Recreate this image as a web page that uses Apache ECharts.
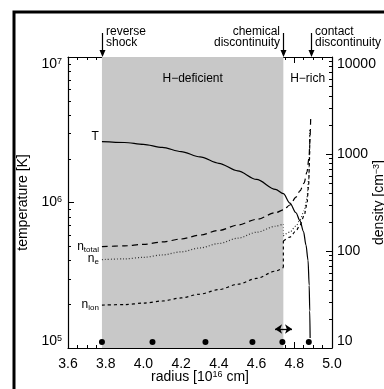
<!DOCTYPE html>
<html>
<head>
<meta charset="utf-8">
<script src="https://cdn.jsdelivr.net/npm/echarts@6/dist/echarts.min.js"></script>
<style>
  html, body { margin: 0; padding: 0; background: #fff; }
  #chart { width: 384px; height: 389px; }
</style>
</head>
<body>
<div id="chart"></div>
<script>
// temperature profile (left axis)
const radiusT = [3.78, 3.90, 4.00, 4.10, 4.20, 4.30, 4.40, 4.50, 4.60, 4.70, 4.742,
  4.777, 4.809, 4.830, 4.849, 4.862, 4.873, 4.879, 4.882, 4.884];
const temperature = [2.62e6, 2.585e6, 2.51e6, 2.39e6, 2.24e6, 2.06e6, 1.86e6, 1.65e6, 1.44e6, 1.23e6, 1.15e6,
  9.9e5, 8.5e5, 7.5e5, 6.3e5, 5.1e5, 4.0e5, 2.7e5, 1.8e5, 1.17e5];

// total density, continuous across the chemical discontinuity (right axis)
const radiusTotal = [3.78, 3.90, 4.00, 4.10, 4.20, 4.30, 4.40, 4.50, 4.60, 4.70, 4.742,
  4.777, 4.809, 4.830, 4.852, 4.867, 4.878, 4.883, 4.887];
const densityTotal = [110.7, 113, 117, 124, 133, 146, 163, 185, 212, 248, 265,
  298, 360, 416, 502, 652, 910, 1390, 2350];

// H-deficient side
const radiusDef = [3.78, 3.90, 4.00, 4.10, 4.20, 4.30, 4.40, 4.50, 4.60, 4.70, 4.742];
const neDef = [81.5, 83, 86, 91, 98, 107.5, 119.5, 135.5, 156, 180, 190];
const nionDef = [27.7, 28, 29, 30.5, 32.8, 36, 40, 45.4, 52.2, 62, 67.5];

// H-rich side
const radiusRich = [4.742, 4.777, 4.809, 4.830, 4.852, 4.867, 4.876, 4.881, 4.882];
const neRich = [143, 157, 181, 209, 259, 343, 540, 977, 1850];
const nionRich = [127, 139, 161, 185, 230, 305, 479, 867, 1570];

// markers along the bottom and the double arrow
const dotRadius = [3.78, 4.048, 4.329, 4.578, 4.737, 4.877];
const dotTemp = 1.1e5;
const arrowRadius = [4.698, 4.788];
const arrowTemp = 1.35e5;

const shockRadius = 3.78;
const chemRadius = 4.742;
const contactRadius = 4.887;

const tempTicks = [1e5, 1e6, 1e7];
const densityTicks = [10, 100, 1000, 10000];
const radiusRange = [3.6, 5.0];

const FONT = '"Liberation Sans", Arial, Helvetica, sans-serif';

const pairs = (xs, ys) => xs.map((x, i) => [x, ys[i]]);

const labelRich = {
  b: { fontSize: 12, lineHeight: 14, fontFamily: FONT, color: '#000' },
  s: { fontSize: 8, lineHeight: 6, verticalAlign: 'bottom', fontFamily: FONT, color: '#000' }
};
const supRich = {
  sup: { fontSize: 9, lineHeight: 6, verticalAlign: 'top', fontFamily: FONT, color: '#000' }
};

// curve name written just left of its first point
function startMark(point, text, offset) {
  return {
    silent: true,
    symbol: 'circle', symbolSize: 0,
    itemStyle: { color: 'rgba(0,0,0,0)' },
    label: {
      show: true, position: 'left', distance: 3, offset: offset,
      formatter: text, rich: labelRich, fontFamily: FONT, fontSize: 12, color: '#000'
    },
    data: [{ coord: point }]
  };
}

function lineSeries(data, yAxisIndex, type, color, smooth, label) {
  const s = {
    type: 'line',
    xAxisIndex: 0,
    yAxisIndex: yAxisIndex,
    data: data,
    showSymbol: false,
    symbol: 'none',
    smooth: smooth,
    smoothMonotone: 'x',
    silent: true,
    z: 3,
    lineStyle: { color: color, width: 1.2, type: type }
  };
  if (label) s.markPoint = startMark(data[0], label[0], label[1]);
  return s;
}

const axisBase = {
  axisLine: { show: true, lineStyle: { color: '#000', width: 1.2 } },
  axisTick: { show: true, inside: true, length: 6, lineStyle: { color: '#000', width: 1 } },
  splitLine: { show: false },
  nameMoveOverlap: false
};

const chart = echarts.init(document.getElementById('chart'));

const option = {
  animation: false,
  backgroundColor: '#fff',
  grid: { left: 68, right: 52, top: 57, bottom: 41, outerBoundsMode: 'none', containLabel: false },
  xAxis: [
    Object.assign({}, axisBase, {
      type: 'value', position: 'bottom',
      min: radiusRange[0], max: radiusRange[1], interval: 0.2,
      minorTick: { show: true, splitNumber: 4, length: 3, lineStyle: { color: '#000', width: 1 } },
      axisLabel: { formatter: v => v.toFixed(1), fontSize: 14, margin: 9, color: '#000', fontFamily: FONT },
      name: 'radius [10{sup|16} cm]',
      nameLocation: 'middle', nameGap: 22,
      nameTextStyle: { fontSize: 14, lineHeight: 14, color: '#000', fontFamily: FONT, rich: supRich }
    }),
    Object.assign({}, axisBase, {
      type: 'value', position: 'top',
      min: radiusRange[0], max: radiusRange[1], interval: 0.2,
      minorTick: { show: true, splitNumber: 4, length: 3, lineStyle: { color: '#000', width: 1 } },
      axisLabel: { show: false }
    })
  ],
  yAxis: [
    Object.assign({}, axisBase, {
      type: 'log', logBase: 10, position: 'left',
      min: tempTicks[0], max: tempTicks[tempTicks.length - 1],
      axisLabel: {
        formatter: v => '10{sup|' + Math.round(Math.log10(v)) + '}',
        fontSize: 14, lineHeight: 14, margin: 6, color: '#000', fontFamily: FONT, rich: supRich,
        verticalAlignMinLabel: 'bottom', verticalAlignMaxLabel: 'top'
      },
      name: 'temperature [K]',
      nameLocation: 'middle', nameRotate: 90, nameGap: 38,
      nameTextStyle: { fontSize: 14, color: '#000', fontFamily: FONT }
    }),
    Object.assign({}, axisBase, {
      type: 'log', logBase: 10, position: 'right',
      min: densityTicks[0], max: densityTicks[densityTicks.length - 1],
      axisLabel: {
        formatter: v => String(Math.round(v)),
        fontSize: 14, margin: 5, color: '#000', fontFamily: FONT,
        verticalAlignMinLabel: 'bottom', verticalAlignMaxLabel: 'top'
      },
      name: 'density [cm{sup|−3}]',
      nameLocation: 'middle', nameRotate: 90, nameGap: 40,
      nameTextStyle: { fontSize: 14, lineHeight: 14, color: '#000', fontFamily: FONT, rich: supRich }
    })
  ],
  series: [
    {
      // shaded H-deficient shell and region titles
      type: 'line', xAxisIndex: 0, yAxisIndex: 0,
      data: [[shockRadius, tempTicks[0]]],
      symbol: 'none', lineStyle: { opacity: 0 }, z: 1, silent: true,
      markArea: {
        silent: true,
        label: { show: true, position: 'insideTop', distance: 16, fontSize: 12, color: '#000', fontFamily: FONT },
        data: [
          [{ xAxis: shockRadius, name: 'H−deficient', itemStyle: { color: '#c8c8c8' } }, { xAxis: chemRadius }],
          [{ xAxis: chemRadius, name: 'H−rich', itemStyle: { color: 'rgba(0,0,0,0)' } }, { xAxis: radiusRange[1] }]
        ]
      }
    },
    lineSeries(pairs(radiusT, temperature), 0, 'solid', '#000', 0.3, ['T', [0, -5]]),
    lineSeries(pairs(radiusTotal, densityTotal), 1, [6, 4], '#000', 0.3, ['{b|n}{s|total}', [0, 0]]),
    lineSeries(pairs(radiusDef, neDef), 1, [1, 2], '#333', 0.3, ['{b|n}{s|e}', [0, -1]]),
    lineSeries([[chemRadius, neDef[neDef.length - 1]], [chemRadius, neRich[0]]], 1, [1, 2], '#888', false),
    lineSeries(pairs(radiusRich, neRich), 1, [1, 2], '#333', 0.3),
    lineSeries(pairs(radiusDef, nionDef), 1, [3, 3], '#000', 0.3, ['{b|n}{s|ion}', [0, 0]]),
    lineSeries([[chemRadius, nionDef[nionDef.length - 1]], [chemRadius, nionRich[0]]], 1, [3, 3], '#000', false),
    lineSeries(pairs(radiusRich, nionRich), 1, [3, 3], '#000', 0.3),
    {
      type: 'scatter', xAxisIndex: 0, yAxisIndex: 0,
      data: dotRadius.map(r => [r, dotTemp]),
      symbol: 'circle', symbolSize: 6, itemStyle: { color: '#000', opacity: 1 }, z: 4, silent: true,
      markLine: {
        silent: true,
        symbol: ['arrow', 'arrow'], symbolSize: 7,
        label: { show: false },
        lineStyle: { color: '#000', type: 'solid', width: 1.3 },
        data: [[{ coord: [arrowRadius[0], arrowTemp] }, { coord: [arrowRadius[1], arrowTemp] }]]
      }
    }
  ]
};

chart.setOption(option);

// log minor ticks, boundary arrows, frame
const graphics = [];
const xLeft = chart.convertToPixel({ xAxisIndex: 0 }, radiusRange[0]);
const xRight = chart.convertToPixel({ xAxisIndex: 0 }, radiusRange[1]);
const yTop = chart.convertToPixel({ yAxisIndex: 0 }, tempTicks[tempTicks.length - 1]);
const tickStyle = { stroke: '#000', lineWidth: 1 };

function minorTicks(axisIndex, decades, x0, dir) {
  decades.forEach(base => {
    for (let m = 2; m <= 9; m++) {
      const y = Math.round(chart.convertToPixel({ yAxisIndex: axisIndex }, m * base)) + 0.5;
      graphics.push({ type: 'line', silent: true, z: 10, shape: { x1: x0, y1: y, x2: x0 + dir * 3, y2: y }, style: tickStyle });
    }
  });
}
minorTicks(0, [1e5, 1e6], xLeft, 1);
minorTicks(1, [10, 100, 1000], xRight, -1);

function boundary(r, text, align) {
  const x = Math.round(chart.convertToPixel({ xAxisIndex: 0 }, r)) + 0.5;
  graphics.push({ type: 'line', silent: true, z: 10, shape: { x1: x, y1: 33, x2: x, y2: yTop - 5 }, style: { stroke: '#000', lineWidth: 1.2 } });
  graphics.push({ type: 'polygon', silent: true, z: 10, shape: { points: [[x - 3, yTop - 7], [x + 3, yTop - 7], [x, yTop]] }, style: { fill: '#000' } });
  graphics.push({
    type: 'text', silent: true, z: 10,
    x: align === 'left' ? x + 3.5 : x - 3.5, y: 26,
    style: { text: text, fontSize: 12, lineHeight: 11, fontFamily: FONT, fill: '#000', align: align, verticalAlign: 'top' }
  });
}
boundary(shockRadius, 'reverse\nshock', 'left');
boundary(chemRadius, 'chemical\ndiscontinuity', 'right');
boundary(contactRadius, 'contact\ndiscontinuity', 'left');

graphics.push({
  type: 'rect', silent: true, z: 20,
  shape: { x: 14, y: 12, width: 600, height: 600 },
  style: { fill: 'none', stroke: '#000', lineWidth: 3 }
});

chart.setOption({ graphic: graphics });
</script>
</body>
</html>
